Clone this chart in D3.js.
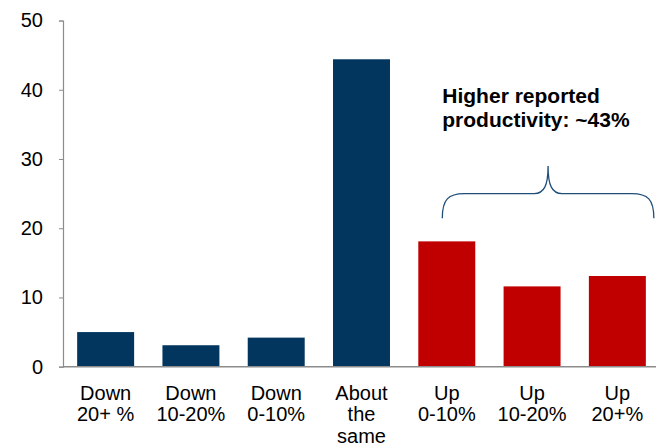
<!DOCTYPE html>
<html>
<head>
<meta charset="utf-8">
<script src="https://cdn.jsdelivr.net/npm/d3@7"></script>
<style>
  html, body { margin: 0; padding: 0; background: #fff; }
  svg { display: block; font-family: "Liberation Sans", Arial, sans-serif; }
</style>
</head>
<body>
<svg id="chart" width="656" height="445"></svg>
<script>
// Reported change in productivity (% of respondents)
const categories = ["Down 20+ %", "Down 10-20%", "Down 0-10%", "About the same", "Up 0-10%", "Up 10-20%", "Up 20+%"];
const labelLines = [["Down", "20+ %"], ["Down", "10-20%"], ["Down", "0-10%"], ["About", "the", "same"], ["Up", "0-10%"], ["Up", "10-20%"], ["Up", "20+%"]];
const values = [5.0, 3.1, 4.2, 44.4, 18.1, 11.6, 13.1];
const higher = [false, false, false, false, true, true, true];
const yTicks = [0, 10, 20, 30, 40, 50];
const annotation = ["Higher reported", "productivity: ~43%"];

const svg = d3.select("#chart");
const margin = { left: 63, top: 20.5, right: -4, bottom: 78.3 };
const W = 656, H = 445;

const x = d3.scaleBand()
  .domain(categories)
  .range([margin.left, W - margin.right])
  .paddingInner(0.332)
  .paddingOuter(0.166);

const y = d3.scaleLinear()
  .domain([0, 50])
  .range([H - margin.bottom, margin.top]);

const axisColor = "#8c8c8c";

// Bars
svg.append("g").selectAll("rect")
  .data(values)
  .join("rect")
  .attr("x", (d, i) => x(categories[i]))
  .attr("y", d => y(d))
  .attr("width", x.bandwidth())
  .attr("height", d => y(0) - y(d))
  .attr("fill", (d, i) => higher[i] ? "#c00000" : "#03365e");

// Y axis
const yAxis = svg.append("g")
  .attr("transform", `translate(${margin.left},0)`)
  .call(d3.axisLeft(y).tickValues(yTicks).tickSize(4).tickPadding(16).tickFormat(d3.format("d")));
yAxis.select(".domain").attr("stroke", axisColor).attr("stroke-width", 1.2);
yAxis.selectAll(".tick line").attr("stroke", axisColor);
yAxis.selectAll(".tick text")
  .attr("font-size", 20)
  .attr("fill", "#000")
  .style("font-family", "Liberation Sans, Arial, sans-serif");

// Baseline
svg.append("line")
  .attr("x1", margin.left).attr("x2", W)
  .attr("y1", y(0)).attr("y2", y(0))
  .attr("stroke", axisColor).attr("stroke-width", 1.5);

// Category labels
const labels = svg.append("g").selectAll("text")
  .data(categories)
  .join("text")
  .attr("x", d => x(d) + x.bandwidth() / 2)
  .attr("y", y(0) + 33)
  .attr("text-anchor", "middle")
  .attr("font-size", 20)
  .attr("fill", "#000");
labels.each(function(d, i) {
  const t = d3.select(this);
  labelLines[i].forEach((line, j) => {
    t.append("tspan")
      .attr("x", x(d) + x.bandwidth() / 2)
      .attr("dy", j === 0 ? 0 : 21.5)
      .text(line);
  });
});

// Brace over the "Up" bars
const bx0 = x("Up 0-10%") + 24;
const bx1 = x("Up 20+%") + x.bandwidth() + 8;
const bm = (bx0 + bx1) / 2;
const yEnd = y(21.45), yMid = y(25.0), yTip = y(29.0);
const brace = d3.path();
brace.moveTo(bx0, yEnd);
brace.bezierCurveTo(bx0, yMid + 6, bx0 + 6, yMid, bx0 + 22, yMid);
brace.lineTo(bm - 14, yMid);
brace.bezierCurveTo(bm - 4, yMid, bm, yMid - 8, bm, yTip);
brace.bezierCurveTo(bm, yMid - 8, bm + 4, yMid, bm + 14, yMid);
brace.lineTo(bx1 - 22, yMid);
brace.bezierCurveTo(bx1 - 6, yMid, bx1, yMid + 6, bx1, yEnd);
svg.append("path")
  .attr("d", brace.toString())
  .attr("fill", "none")
  .attr("stroke", "#1f4e79")
  .attr("stroke-width", 1.3);

// Annotation text
svg.append("g").selectAll("text")
  .data(annotation)
  .join("text")
  .attr("x", bx0)
  .attr("y", (d, i) => 103 + i * 23.5)
  .attr("font-size", 21)
  .attr("font-weight", "bold")
  .attr("fill", "#000")
  .text(d => d);
</script>
</body>
</html>
